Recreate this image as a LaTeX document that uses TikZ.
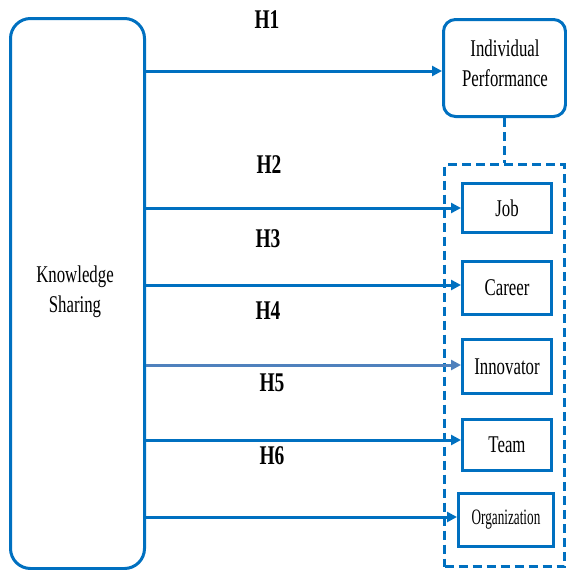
\documentclass[tikz,border=0pt]{standalone}
\usepackage{fontspec}
\setmainfont{Liberation Serif}
\newfontfamily\mylblfont[FakeStretch=0.7]{Liberation Serif}
\newfontfamily\myorgfont[FakeStretch=0.6]{Liberation Serif}
\newfontfamily\myhfont[FakeStretch=0.72]{Liberation Serif}
\usetikzlibrary{arrows.meta}
\definecolor{mblue}{HTML}{0070C0}
\definecolor{sblue}{HTML}{4F81BD}
\begin{document}
\begin{tikzpicture}[x=1pt,y=-1pt,
  line width=3pt,
  bigbox/.style={draw=mblue,rounded corners=20pt},
  ipbox/.style={draw=mblue,rounded corners=12pt},
  subbox/.style={draw=mblue,line width=3pt},
  lbl/.style={font=\mylblfont\fontsize{24}{30}\selectfont,text=black,align=center},
  hlbl/.style={font=\myhfont\bfseries\fontsize{27}{30}\selectfont,text=black},
  arr/.style={draw=mblue,line width=3pt,-{Triangle[length=10pt,width=10pt]}},
  dashline/.style={draw=mblue,line width=3pt,dash pattern=on 9pt off 5pt}]
\useasboundingbox (0,0) rectangle (566,570);
% main boxes
\node[bigbox,minimum width=134pt,minimum height=550pt,anchor=north west] (ks) at (9,17) {};
\node[lbl] at (75,292) {Knowledge\\Sharing};
\node[ipbox,minimum width=122pt,minimum height=97pt,anchor=north west] (ip) at (442,18) {};
\node[lbl] at (505,63) {Individual\\Performance};
% dashed group
\node[dashline,minimum width=120pt,minimum height=402pt,anchor=north west,inner sep=0pt] (grp) at (443,163) {};
\draw[dashline] (ip.south) -- (ip.south |- grp.north);
% sub boxes
\node[subbox,minimum width=89pt,minimum height=49pt,anchor=north west,inner sep=0pt] (job) at (461,182) {};
\node[lbl] at (job.center) {Job};
\node[subbox,minimum width=89pt,minimum height=53pt,anchor=north west,inner sep=0pt] (car) at (461,260) {};
\node[lbl] at (car.center) {Career};
\node[subbox,minimum width=89pt,minimum height=54pt,anchor=north west,inner sep=0pt] (inn) at (461,338) {};
\node[lbl] at (inn.center) {Innovator};
\node[subbox,minimum width=89pt,minimum height=51pt,anchor=north west,inner sep=0pt] (team) at (461,418) {};
\node[lbl] at (team.center) {Team};
\node[subbox,minimum width=95pt,minimum height=53pt,anchor=north west,inner sep=0pt] (org) at (457,492) {};
\node[lbl,font=\myorgfont\fontsize{22}{24}\selectfont] at (org.center) {Organization};
% arrow start coordinates
\coordinate (s1) at (ks.east |- 0,71);
\coordinate (s2) at (ks.east |- 0,208);
\coordinate (s3) at (ks.east |- 0,285);
\coordinate (s4) at (ks.east |- 0,365);
\coordinate (s5) at (ks.east |- 0,440);
\coordinate (s6) at (ks.east |- 0,517);
\draw[arr] (s1) -- (s1 -| ip.west);
\draw[arr] (s2) -- (s2 -| job.west);
\draw[arr] (s3) -- (s3 -| car.west);
\draw[arr,draw=sblue] (s4) -- (s4 -| inn.west);
\draw[arr] (s5) -- (s5 -| team.west);
\draw[arr] (s6) -- (s6 -| org.west);
% labels
\node[hlbl] (h1) at (267,20) {H1};
\node[hlbl] (h2) at (269,165) {H2};
\node[hlbl] (h3) at (268,239) {H3};
\node[hlbl] (h4) at (268,311) {H4};
\node[hlbl] (h5) at (272,383) {H5};
\node[hlbl] (h6) at (272,456) {H6};
\end{tikzpicture}
\end{document}
